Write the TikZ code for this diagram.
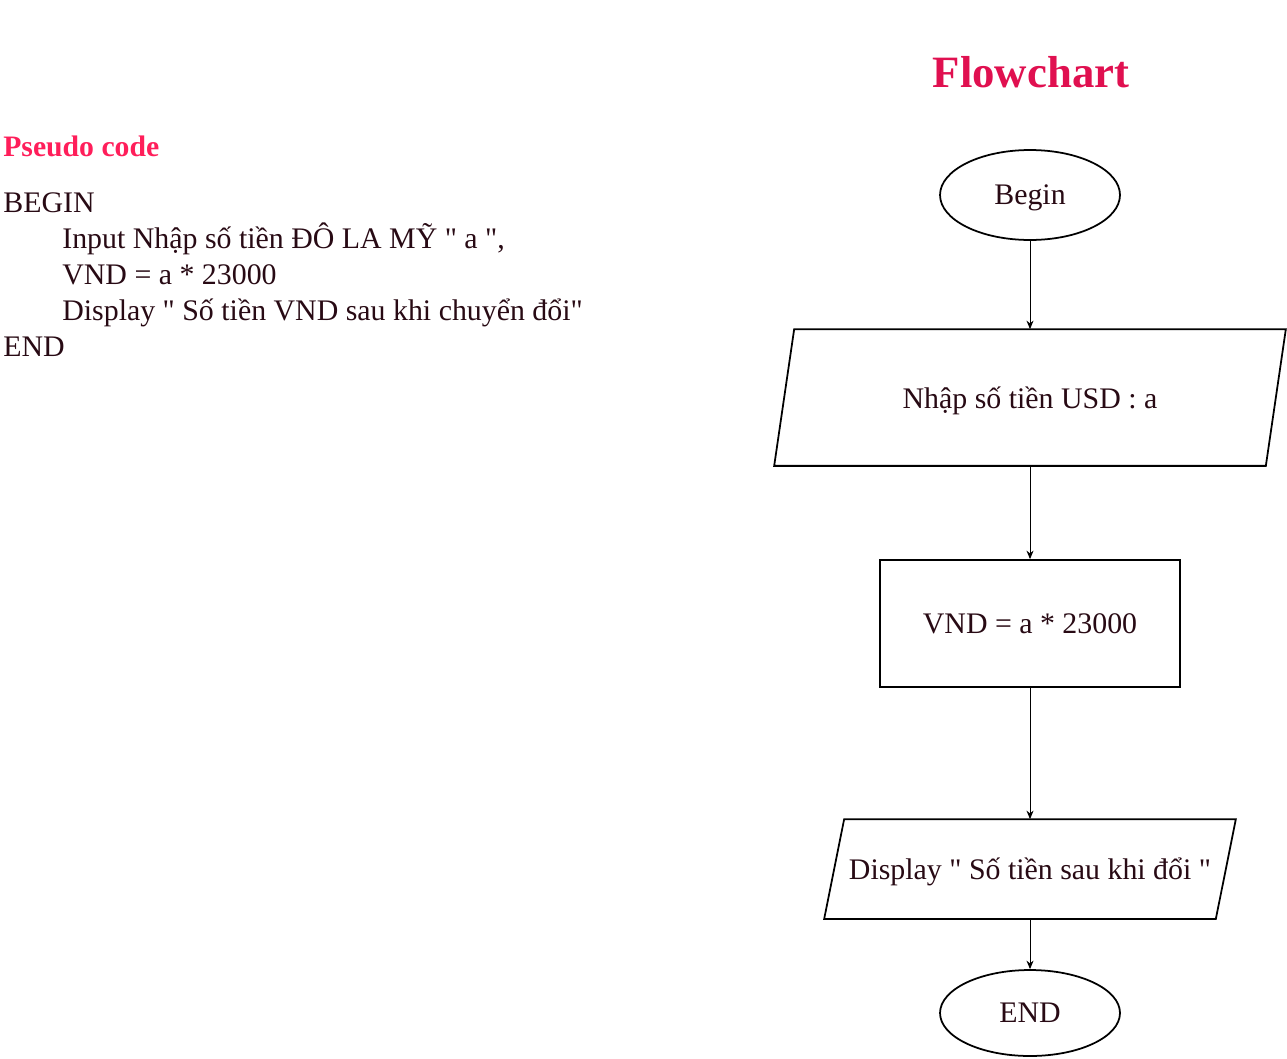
\documentclass[tikz,border=0pt]{standalone}
\usepackage{fontspec}
\setmainfont{Liberation Serif}
\usepackage{tikz}
\usetikzlibrary{positioning,arrows.meta,shapes.geometric}

\definecolor{titlered}{RGB}{224,16,80}
\definecolor{headred}{RGB}{255,30,90}
\definecolor{inkdark}{RGB}{40,10,20}
\newcommand\dq{\textquotedbl}

\tikzset{
  box/.style={line width=1pt, text=inkdark, inner sep=0pt, text depth=0pt,
    font=\fontsize{17}{20}\selectfont},
  terminal/.style={box, draw, ellipse, minimum width=3.6cm, minimum height=1.8cm},
  process/.style={box, draw, rectangle, minimum width=6cm, minimum height=2.54cm},
  io/.style={box, rectangle},
  flow/.style={line width=0.55pt, -{Stealth[length=1.7mm,width=1.4mm]}},
  code/.style={anchor=base west, inner sep=0pt, text=inkdark,
    font=\fontsize{17}{20}\selectfont}
}

\begin{document}
\begin{tikzpicture}[x=0.02cm, y=-0.02cm]
  \useasboundingbox (0,0) rectangle (1287,1058);

  %----- Pseudo code -----
  \node[anchor=base west, inner sep=0pt, text=headred,
    font=\fontsize{16.9}{19}\selectfont\bfseries] (pseudo) at (3,156) {Pseudo code};
  \node[code] (cbegin) at (3,212) {BEGIN};
  \node[code] (cinput) at (62,248) {Input Nhập số tiền ĐÔ LA MỸ \dq{} a \dq,};
  \node[code] (ccalc) at (62,284) {VND = a * 23000};
  \node[code] (cshow) at (62,320) {Display \dq{} Số tiền VND sau khi chuyển đổi\dq};
  \node[code] (cend) at (3,356) {END};

  %----- Flowchart -----
  \node[text=titlered, font=\fontsize{25.5}{30}\selectfont\bfseries] (title) at (1031,72) {Flowchart};

  \node[terminal] (start) at (1030,195) {Begin};
  \node[io, minimum width=9.8cm, minimum height=2.7cm] (input) at (1030,397.5) {Nhập số tiền USD : a};
  \node[process] (calc) at (1030,623.5) {VND = a * 23000};
  \node[io, minimum width=7.8cm, minimum height=1.96cm] (output) at (1030,869) {Display \dq{} Số tiền sau khi đổi \dq};
  \node[terminal, minimum height=1.72cm] (stop) at (1030,1013) {END};

  % slanted sides of the input/output boxes
  \foreach \n/\s in {input/10, output/10}
    \draw[line width=1pt] ([xshift=\s*0.02cm]\n.north west) -- ([xshift=\s*0.02cm]\n.north east)
      -- ([xshift=-\s*0.02cm]\n.south east) -- ([xshift=-\s*0.02cm]\n.south west) -- cycle;

  \draw[flow] (start) -- (input);
  \draw[flow] (input) -- (calc);
  \draw[flow] (calc) -- (output);
  \draw[flow] (output) -- (stop);
\end{tikzpicture}
\end{document}
